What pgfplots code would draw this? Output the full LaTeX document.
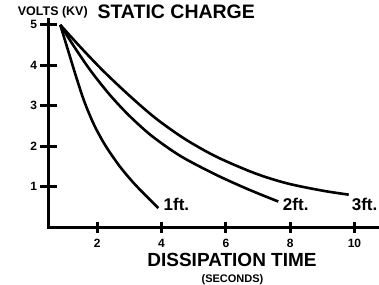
\documentclass[border=0pt]{standalone}
\usepackage{pgfplots}
\pgfplotsset{compat=1.18}
\usepackage{fontspec}
\setmainfont{Liberation Sans}
\begin{document}
\begin{tikzpicture}
\path[use as bounding box] (-49pt,-57pt) rectangle (330pt,227pt);
\begin{axis}[
  at={(0pt,0pt)}, anchor=south west,
  scale only axis, width=328pt, height=207pt,
  xmin=0.5, xmax=10.7, ymin=0, ymax=5.12,
  axis x line=bottom, axis y line=left,
  axis line style={-, line width=3pt, line cap=rect},
  xtick={2,4,6,8,10}, ytick={1,2,3,4,5},
  tick align=center,
  major tick length=17pt,
  tick style={line width=3pt, black},
  xtick style={/pgfplots/major tick length=11pt},
  /pgf/number format/assume math mode=true,
  tick label style={font=\bfseries\fontsize{12}{14}\selectfont},
  clip=false,
]
\addplot[black, line width=2.6pt, smooth] coordinates {
(0.85,5) (1.1,4.35) (1.35,3.70) (1.6,3.10) (1.9,2.53) (2.25,2.02) (2.7,1.50) (3.2,1.03) (3.9,0.47)};
\addplot[black, line width=2.6pt, smooth] coordinates {
(0.85,5) (1.3,4.44) (1.8,3.86) (2.4,3.26) (3.0,2.75) (3.7,2.25) (4.6,1.75) (5.7,1.29) (6.7,0.93) (7.63,0.63)};
\addplot[black, line width=2.6pt, smooth] coordinates {
(0.85,5) (1.5,4.43) (2.2,3.85) (3.0,3.25) (3.8,2.70) (4.7,2.19) (5.7,1.74) (6.9,1.33) (7.9,1.08) (9.0,0.90) (9.82,0.80)};
\node[anchor=base west, inner sep=0pt, font=\bfseries\fontsize{17}{20}\selectfont] at (axis cs:4.06,0.42) {1ft.};
\node[anchor=base west, inner sep=0pt, font=\bfseries\fontsize{17}{20}\selectfont] at (axis cs:7.77,0.42) {2ft.};
\node[anchor=base west, inner sep=0pt, font=\bfseries\fontsize{17}{20}\selectfont] at (axis cs:9.91,0.42) {3ft.};
\end{axis}
\node[anchor=base west, inner sep=0pt, font=\bfseries\fontsize{19.5}{23}\selectfont] at (48.3pt,208pt) {STATIC CHARGE};
\node[anchor=base, inner sep=0pt, font=\bfseries\fontsize{12.5}{15}\selectfont] at (3.8pt,211.7pt) {VOLTS (KV)};
\node[anchor=base, inner sep=0pt, font=\bfseries\fontsize{19}{22}\selectfont] at (183pt,-39.7pt) {DISSIPATION TIME};
\node[anchor=base, inner sep=0pt, font=\bfseries\fontsize{11}{13}\selectfont] at (183.5pt,-55.3pt) {(SECONDS)};
\end{tikzpicture}
\end{document}
